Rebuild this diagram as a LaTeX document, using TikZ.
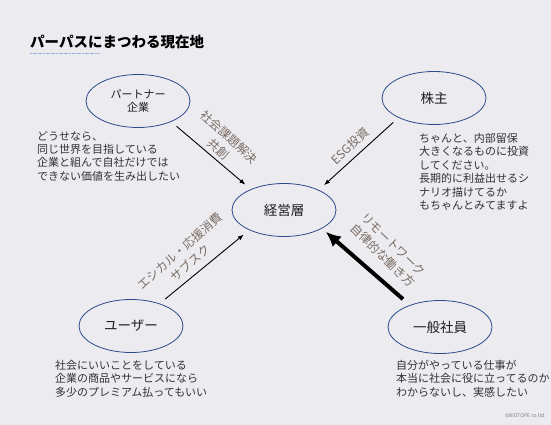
\documentclass[tikz,border=0pt]{standalone}
\usepackage{fontspec}
\setmainfont{Noto Sans CJK JP}
\usetikzlibrary{shapes.geometric, arrows.meta}

\definecolor{paper}{RGB}{236,236,240}
\definecolor{ellipseblue}{RGB}{44,74,140}
\definecolor{inkdark}{RGB}{30,30,34}
\definecolor{inkgray}{RGB}{50,50,54}
\definecolor{labelbrown}{RGB}{122,108,100}
\definecolor{subblue}{RGB}{150,175,225}

\begin{document}
\begin{tikzpicture}[x=1pt, y=-1pt,
    actor/.style={draw=ellipseblue, line width=0.8pt, shape=ellipse, minimum width=104pt, minimum height=53pt,
        inner sep=0pt, align=center, text=inkdark, font=\fontsize{13.5}{15}\selectfont},
    voice/.style={anchor=north west, inner sep=0pt, align=left, text=inkgray, font=\fontsize{11}{13.4}\selectfont},
    flowlabel/.style={inner sep=0pt, align=center, text=labelbrown, font=\fontsize{12}{15.5}\selectfont},
    flow/.style={-{Latex[length=6pt,width=4.5pt]}, line width=0.9pt, shorten <=7pt, shorten >=7pt}]

        % Background and title
        \fill[paper] (0,0) rectangle (551,425);
        \useasboundingbox (0,0) rectangle (551,425);
        \node (title) [anchor=west, inner sep=0pt, font=\fontsize{14.5}{16}\selectfont\bfseries] at (30,42) {パーパスにまつわる現在地};
        \draw[subblue, line width=1.2pt, dash pattern=on 2pt off 0.6pt] (30,53.5) -- (100,53.5);

        % Node definitions
        \node (partner) [actor, font=\fontsize{11}{12.5}\selectfont] at (138,101) {パートナー\\企業};
        \node (kabunushi) [actor] at (434,98) {株主};
        \node (keiei) [actor] at (284,210) {経営層};
        \node (user) [actor] at (131,326) {ユーザー};
        \node (shain) [actor] at (440,327) {一般社員};

        % Voices
        \node (partnerVoice) [voice] at (37,131) {どうせなら、\\同じ世界を目指している\\企業と組んで自社だけでは\\できない価値を生み出したい};
        \node (kabunushiVoice) [voice] at (419,133) {ちゃんと、内部留保\\大きくなるものに投資\\してください。\\長期的に利益出せるシ\\ナリオ描けてるか\\もちゃんとみてますよ};
        \node (userVoice) [voice] at (55,360) {社会にいいことをしている\\企業の商品やサービスになら\\多少のプレミアム払ってもいい};
        \node (shainVoice) [voice] at (396,360) {自分がやっている仕事が\\本当に社会に役に立ってるのか\\わからないし、実感したい};

        % Connecting lines
        \draw[flow] (partner.-32) -- (keiei.148);
        \draw[flow] (kabunushi.-151) -- (keiei.30);
        \draw[flow] (user.38) -- (keiei.-150);
        \draw[-{Latex[length=15pt,width=14pt]}, line width=4pt, shorten <=9pt, shorten >=5pt] (shain.144) -- (keiei.-26);

        % Connector labels
        \node (kyoso) [flowlabel, rotate=-42] at (224,143) {社会課題解決\\共創};
        \node (esg) [flowlabel, rotate=43] at (350,146) {ESG投資};
        \node (ethical) [flowlabel, rotate=42] at (185,257) {エシカル・応援消費\\サブスク};
        \node (remote) [flowlabel, rotate=-44] at (388,250) {リモートワーク\\自律的な働き方};

        \node (credit) [anchor=east, inner sep=0pt, text=gray, font=\fontsize{5}{6}\selectfont] at (546,416) {©BIOTOPE co.ltd.};
    \end{tikzpicture}
\end{document}
